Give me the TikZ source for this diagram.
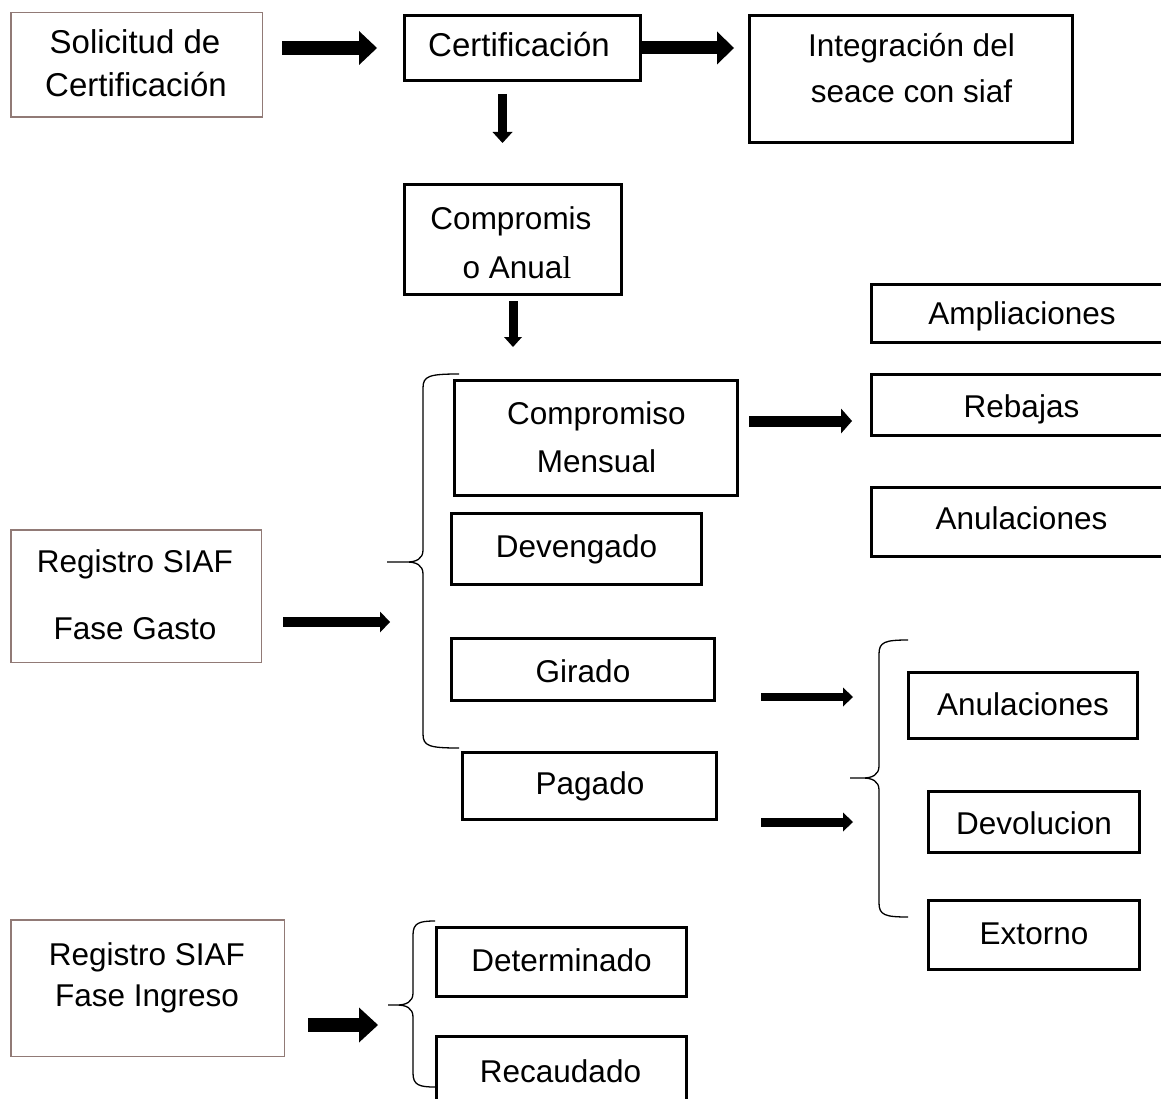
\documentclass[tikz,border=0pt]{standalone}
\usepackage{fontspec}
\setmainfont{Liberation Sans}
\newfontfamily\timesl{Liberation Serif}
\usetikzlibrary{arrows.meta,calc}
\definecolor{brownline}{RGB}{145,122,118}
% #1 end x, #2 vertical x, #3 tip x, #4 top y, #5 mid y, #6 bottom y
\newcommand{\drawbrace}[6]{%
  \draw[brc] (#1,#4) .. controls (#2+6,#4) and (#2,#4+2) .. (#2,#4+14)
    -- (#2,#5-12) .. controls (#2,#5-3) and (#2-7,#5) .. (#2-16,#5) -- (#3,#5)
    -- (#2-16,#5) .. controls (#2-7,#5) and (#2,#5+3) .. (#2,#5+12)
    -- (#2,#6-14) .. controls (#2,#6-2) and (#2+6,#6) .. (#1,#6);}
\begin{document}
\begin{tikzpicture}[x=1pt,y=-1pt,
  tbox/.style={draw=black, line width=2.8pt, fill=white, inner sep=0pt},
  bbox/.style={draw=brownline, line width=1.5pt, fill=white, inner sep=0pt},
  txt/.style={anchor=base, inner sep=0pt, font=\fontsize{31.5}{38}\selectfont},
  txtl/.style={anchor=base, inner sep=0pt, font=\fontsize{33}{40}\selectfont},
  brc/.style={line width=1.3pt, draw=black},
  blk/.style n args={3}{draw=black, line width=#1pt, -{Triangle[length=#3pt, width=#2pt, line width=0pt]}}
]
\path[use as bounding box, clip] (0,0) rectangle (1161,1099);
\fill[white] (0,0) rectangle (1161,1099);

% braces
\drawbrace{459}{423}{387}{374}{562}{748}
\drawbrace{908}{879}{850}{640}{778}{917}
\drawbrace{435}{413}{388}{921}{1005}{1087}
\coordinate (b1tip) at (387,562);
\coordinate (b2tip) at (850,778);
\coordinate (b3tip) at (388,1005);

% boxes
\node[bbox, minimum width=251.5, minimum height=104.5] (sol) at (136.5,65) {};
\node[tbox, minimum width=236.2, minimum height=65.2] (cert) at (522.5,48) {};
\node[tbox, minimum width=323.2, minimum height=127.2] (integ) at (911,79) {};
\node[tbox, minimum width=217.2, minimum height=110.2] (anual) at (513,239.5) {};
\node[tbox, minimum width=283.2, minimum height=115.2] (mensual) at (596,438) {};
\node[tbox, minimum width=250.2, minimum height=71.2] (deveng) at (576.5,549) {};
\node[tbox, minimum width=263.2, minimum height=62.2] (girado) at (583,669.5) {};
\node[tbox, minimum width=254.2, minimum height=67.2] (pagado) at (589.5,786) {};
\node[bbox, minimum width=250.5, minimum height=132.5] (gasto) at (136,596) {};
\node[tbox, minimum width=307.2, minimum height=58.2] (ampl) at (1025,313.5) {};
\node[tbox, minimum width=307.2, minimum height=61.2] (rebajas) at (1025,405) {};
\node[tbox, minimum width=307.2, minimum height=69.2] (anul1) at (1025,522) {};
\node[tbox, minimum width=229.2, minimum height=66.2] (anul2) at (1023,705.5) {};
\node[tbox, minimum width=211.2, minimum height=61.2] (devol) at (1034,822) {};
\node[tbox, minimum width=211.2, minimum height=69.2] (extorno) at (1034,935) {};
\node[bbox, minimum width=273.5, minimum height=136.5] (ingreso) at (147.5,988) {};
\node[tbox, minimum width=250.2, minimum height=69.2] (determ) at (561.5,962) {};
\node[tbox, minimum width=250.2, minimum height=82.2] (recaud) at (561.5,1077.5) {};

% texts
\node[txtl] (sol-a) at (135,54) {Solicitud de};
\node[txtl] (sol-b) at (136,97) {Certificación};
\node[txtl] (cert-a) at (519,57) {Certificación};
\node[txt] (integ-a) at (911.5,57) {Integración del};
\node[txt] (integ-b) at (911.5,103) {seace con siaf};
\node[txt] (anual-a) at (511,230) {Compromis};
\node[txt] (anual-b) at (517,278) {o Anua{\timesl l}};
\node[txt] (mensual-a) at (596.5,424) {Compromiso};
\node[txt] (mensual-b) at (596.5,472) {Mensual};
\node[txt] (deveng-a) at (576.5,557) {Devengado};
\node[txt] (girado-a) at (583,682) {Girado};
\node[txt] (pagado-a) at (590,794) {Pagado};
\node[txt] (gasto-a) at (135,572) {Registro SIAF};
\node[txt] (gasto-b) at (135,639) {Fase Gasto};
\node[txt] (ampl-a) at (1022,324) {Ampliaciones};
\node[txt] (rebajas-a) at (1021.5,417) {Rebajas};
\node[txt] (anul1-a) at (1021.5,529) {Anulaciones};
\node[txt] (anul2-a) at (1023,715) {Anulaciones};
\node[txt] (devol-a) at (1034,834) {Devolucion};
\node[txt] (extorno-a) at (1034,944) {Extorno};
\node[txt] (ingreso-a) at (147,965) {Registro SIAF};
\node[txt] (ingreso-b) at (147,1006) {Fase Ingreso};
\node[txt] (determ-a) at (561.5,971) {Determinado};
\node[txt] (recaud-a) at (560.5,1082) {Recaudado};

% arrows
\draw[blk={14}{34}{18}, shorten <=19pt, shorten >=26pt] (sol.east |- cert.west) -- (cert.west);
\draw[blk={13}{33}{17}, shorten >=14pt] (cert.east) -- (cert.east -| integ.west);
\draw[blk={9}{20}{11}, shorten <=12pt, shorten >=40pt] ($(cert.south)+(-20,0)$) -- ($(cert.south |- anual.north)+(-20,0)$);
\draw[blk={9}{18}{10}, shorten <=5pt, shorten >=32pt] (anual.south) -- (anual.south |- mensual.north);
\draw[blk={10}{21}{10}] ($(gasto.east)+(21,26)$) -- ($(b1tip)+(3,60)$);
\draw[blk={11}{25}{11}] ($(mensual.east)+(10,-17)$) -- ($(rebajas.west)+(-18,16)$);
\draw[blk={8}{19}{10}] ($(girado.east)+(45,27.5)$) -- ($(b2tip)+(3,-81)$);
\draw[blk={9}{19}{10}] ($(pagado.east)+(43,36)$) -- ($(b2tip)+(3,44)$);
\draw[blk={14}{35}{19}] ($(ingreso.east)+(23,37)$) -- ($(b3tip)+(-10,20)$);
\end{tikzpicture}
\end{document}
